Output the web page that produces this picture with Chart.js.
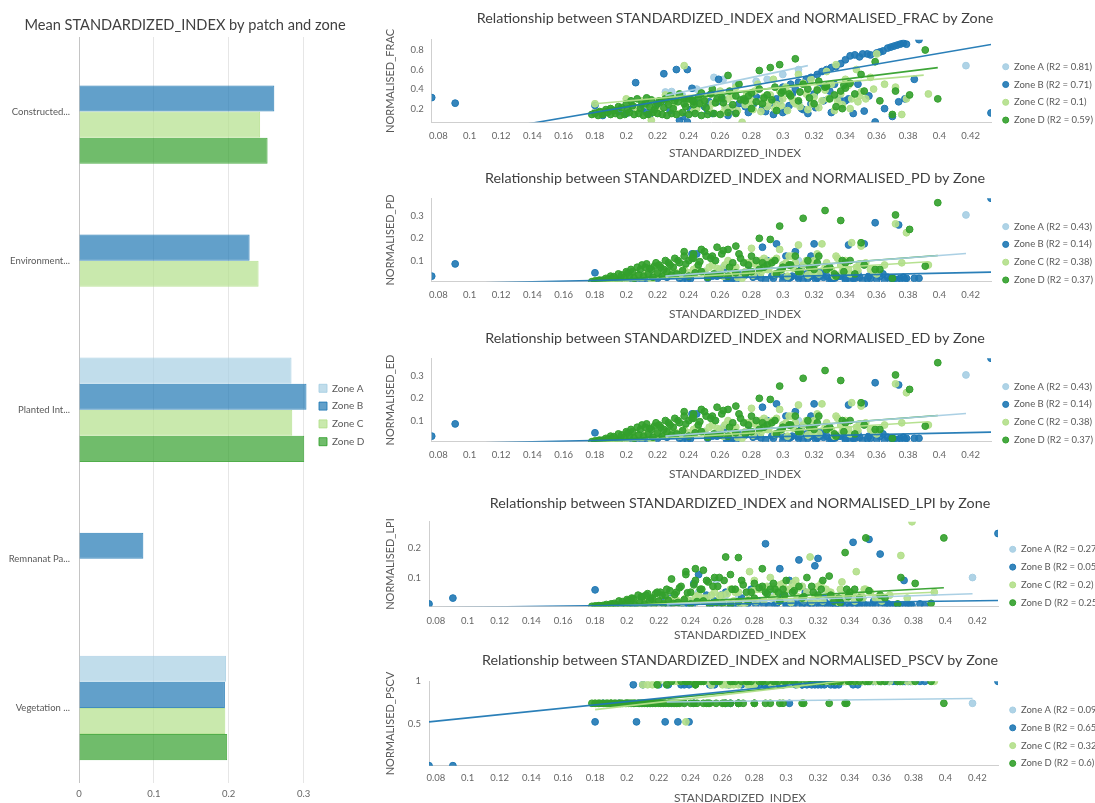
<!DOCTYPE html>
<html><head><meta charset="utf-8">
<script src="https://cdn.jsdelivr.net/npm/chart.js@4.4.1/dist/chart.umd.min.js"></script>
<style>
html,body{margin:0;padding:0;background:#fff;overflow:hidden;width:1095px;height:803px;position:relative;}
.box{position:absolute;}
canvas{display:block;}
</style></head><body>
<div class="box" style="left:0;top:0"><canvas id="bar" width="370" height="803"></canvas></div>
<div class="box" style="left:370px;top:0"><canvas id="s1" width="730" height="165"></canvas></div>
<div class="box" style="left:370px;top:165px"><canvas id="s2" width="730" height="160"></canvas></div>
<div class="box" style="left:370px;top:325px"><canvas id="s3" width="730" height="163"></canvas></div>
<div class="box" style="left:370px;top:488px"><canvas id="s4" width="740" height="157"></canvas></div>
<div class="box" style="left:370px;top:645px"><canvas id="s5" width="740" height="165"></canvas></div>
<script>
// ---------------- DATA ----------------
const zones = ['Zone A','Zone B','Zone C','Zone D'];
const patchCategories = ['Constructed...','Environment...','Planted Int...','Remnanat Pa...','Vegetation ...'];
const meanZoneA = [null, null, 0.284, null, 0.1965];
const meanZoneB = [0.261, 0.228, 0.304, 0.086, 0.195];
const meanZoneC = [0.242, 0.240, 0.285, null, 0.1955];
const meanZoneD = [0.252, null, 0.301, null, 0.198];
const barTicks = [0, 0.1, 0.2, 0.3];

const xTicks = [0.08,0.1,0.12,0.14,0.16,0.18,0.2,0.22,0.24,0.26,0.28,0.3,0.32,0.34,0.36,0.38,0.4,0.42];
const fracTicks = [0.2,0.4,0.6,0.8];
const pdTicks = [0.1,0.2,0.3];
const edTicks = [0.1,0.2,0.3];
const lpiTicks = [0.1,0.2];
const pscvTicks = [0.5,1];

const zoneA_index = [0.225,0.229,0.236,0.245,0.256,0.262,0.270,0.283,0.290,0.300,0.310,0.417];
const zoneA_frac  = [0.37,0.375,0.33,0.40,0.52,0.50,0.45,0.48,0.50,0.55,0.60,0.64];
const zoneA_pd    = [0.04,0.05,0.03,0.06,0.10,0.07,0.05,0.09,0.06,0.08,0.10,0.305];
const zoneA_lpi   = [0.02,0.03,0.01,0.05,0.09,0.04,0.03,0.06,0.04,0.05,0.07,0.10];
const zoneA_pscv  = [0.96,1,0.74,1,1,0.96,1,1,0.96,1,1,0.74];

const zoneB_index = [0.0757,0.0907,0.180,0.206,0.224,0.232,0.239,0.242,0.259,0.234,0.239,0.433,0.359,0.374,0.287,0.342,0.352,0.320,0.308,0.296,0.318,0.245,0.387,
  0.300,0.305,0.310,0.315,0.318,0.322,0.325,0.328,0.331,0.334,0.337,0.340,0.343,0.346,0.349,0.351,0.354,0.356,0.360,0.362,0.364,0.367,0.369,0.371,0.373,0.375,0.377,0.379,
  0.200,0.210,0.215,0.220,0.228,0.236,0.250,0.255,0.262,0.268,0.272,0.278,0.283,0.290,0.294,0.298,0.302,0.306,0.312,0.316,0.324,0.330,0.336,0.345,0.348,0.355,0.365,0.370,0.378,0.384,
  0.185,0.195,0.204,0.213,0.226,0.241,0.253,0.265,0.276,0.286,0.300,0.310,0.321,0.333,0.340,
  0.252,0.258,0.264,0.270,0.276,0.281,0.289,0.293,0.304,0.313,0.326,0.331];
const zoneB_frac = [0.313,0.256,0.233,0.466,0.557,0.600,0.600,0.408,0.500,0.080,0.063,0.156,0.063,0.270,0.200,0.300,0.175,0.350,0.400,0.300,0.250,0.250,0.906,
  0.42,0.45,0.47,0.50,0.52,0.55,0.58,0.60,0.62,0.63,0.66,0.70,0.74,0.75,0.73,0.76,0.76,0.75,0.77,0.78,0.79,0.82,0.83,0.84,0.85,0.86,0.87,0.86,
  0.15,0.20,0.14,0.25,0.18,0.12,0.22,0.15,0.30,0.20,0.25,0.16,0.32,0.22,0.14,0.28,0.18,0.35,0.20,0.15,0.42,0.38,0.30,0.15,0.45,0.33,0.20,0.12,0.30,0.50,
  0.13,0.17,0.21,0.16,0.28,0.19,0.27,0.13,0.22,0.30,0.16,0.26,0.21,0.45,0.28,
  0.18,0.27,0.21,0.16,0.29,0.24,0.17,0.26,0.23,0.19,0.28,0.16];
const zoneB_pd = [0.030,0.085,0.045,0.020,0.030,0.040,0.035,0.130,0.050,0.020,0.010,0.380,0.270,0.260,0.160,0.170,0.175,0.175,0.140,0.175,0.120,0.130,0.020,
  0.030,0.025,0.020,0.040,0.030,0.020,0.035,0.030,0.020,0.025,0.030,0.020,0.015,0.020,0.025,0.012,0.018,0.020,0.015,0.030,0.040,0.025,0.020,0.018,0.015,0.020,0.025,0.020,
  0.020,0.010,0.030,0.020,0.040,0.015,0.050,0.030,0.060,0.020,0.040,0.080,0.030,0.100,0.020,0.050,0.120,0.030,0.070,0.020,0.050,0.010,0.030,0.020,0.040,0.030,0.010,0.020,0.015,0.020,
  0.008,0.012,0.015,0.020,0.025,0.018,0.030,0.012,0.035,0.022,0.010,0.028,0.015,0.020,0.012,
  0.020,0.030,0.015,0.010,0.040,0.025,0.012,0.030,0.020,0.015,0.025,0.010];
const zoneB_lpi = [0.010,0.030,0.058,0.010,0.020,0.015,0.020,0.080,0.040,0.010,0.005,0.250,0.180,0.090,0.215,0.220,0.230,0.165,0.160,0.130,0.140,0.110,0.004,
  0.010,0.008,0.005,0.012,0.010,0.006,0.012,0.010,0.005,0.008,0.010,0.005,0.004,0.005,0.008,0.003,0.005,0.006,0.004,0.008,0.010,0.006,0.005,0.004,0.004,0.005,0.006,0.005,
  0.005,0.010,0.020,0.015,0.030,0.008,0.040,0.020,0.050,0.010,0.030,0.060,0.020,0.070,0.010,0.040,0.090,0.020,0.050,0.010,0.030,0.005,0.020,0.010,0.030,0.020,0.005,0.008,0.005,0.010,
  0.002,0.003,0.004,0.006,0.008,0.005,0.010,0.003,0.012,0.007,0.003,0.009,0.004,0.006,0.003,
  0.005,0.008,0.004,0.003,0.012,0.007,0.003,0.009,0.006,0.004,0.007,0.003];
const zoneB_pscv = [0,0,0.52,0.52,0.52,0.52,0.52,0.74,1,0.96,0.96,1,1,1,0.96,0.96,1,0.96,1,0.96,0.96,1,1,
  1,1,0.96,1,1,0.96,1,0.96,1,1,1,1,1,1,1,1,1,1,1,1,1,1,1,1,1,1,1,1,
  0.74,0.96,0.74,0.96,0.74,0.96,1,0.96,0.74,1,0.96,0.96,0.96,0.96,1,0.96,0.74,0.96,1,0.96,0.96,0.96,1,0.96,1,1,1,1,1,1,
  0.74,0.74,0.96,0.74,0.96,1,0.96,0.74,1,0.96,1,0.96,1,0.96,1,
  0.96,1,0.96,0.74,1,0.96,0.96,1,1,0.96,1,0.96];

const zoneC_index = [0.180,0.190,0.200,0.205,0.210,0.216,0.220,0.225,0.230,0.234,0.237,0.240,0.245,0.250,0.255,0.260,0.265,0.270,0.274,0.277,
  0.280,0.284,0.288,0.290,0.294,0.298,0.302,0.306,0.310,0.313,0.315,0.318,0.322,0.325,0.328,0.331,0.334,0.337,0.340,0.344,
  0.347,0.350,0.353,0.356,0.360,0.365,0.372,0.376,0.379,0.393,
  0.207,0.213,0.219,0.227,0.232,0.243,0.248,0.253,0.258,0.263,0.268,0.279,0.282,0.286,0.292,0.296,0.300,0.304,0.308,0.320,0.327,0.335,0.342,0.349,0.358,
  0.262,0.267,0.271,0.276,0.281,0.286,0.291,0.295,0.299,0.303,0.307,0.311,0.316,0.319,0.323,0.329,0.333,0.338,0.343,0.348];
const zoneC_frac = [0.25,0.20,0.30,0.22,0.28,0.08,0.18,0.34,0.22,0.15,0.64,0.28,0.20,0.32,0.25,0.38,0.30,0.42,0.06,0.35,
  0.28,0.45,0.32,0.22,0.50,0.38,0.42,0.30,0.55,0.46,0.35,0.50,0.40,0.28,0.58,0.45,0.65,0.35,0.50,0.30,
  0.60,0.37,0.30,0.52,0.76,0.45,0.42,0.14,0.30,0.35,
  0.18,0.24,0.16,0.27,0.31,0.17,0.26,0.19,0.29,0.22,0.33,0.24,0.38,0.27,0.34,0.24,0.30,0.36,0.25,0.32,0.39,0.28,0.44,0.33,0.40,
  0.16,0.21,0.18,0.24,0.19,0.17,0.26,0.20,0.23,0.18,0.27,0.22,0.19,0.25,0.21,0.30,0.18,0.24,0.20,0.27];
const zoneC_pd = [0.010,0.015,0.020,0.030,0.025,0.010,0.040,0.035,0.050,0.030,0.060,0.045,0.070,0.050,0.080,0.060,0.100,0.070,0.020,0.090,
  0.155,0.080,0.110,0.060,0.100,0.150,0.090,0.120,0.170,0.080,0.100,0.070,0.130,0.175,0.090,0.060,0.120,0.080,0.100,0.180,
  0.070,0.165,0.090,0.060,0.040,0.080,0.265,0.090,0.225,0.080,
  0.030,0.040,0.035,0.050,0.045,0.060,0.050,0.070,0.065,0.080,0.070,0.090,0.085,0.100,0.095,0.110,0.080,0.120,0.090,0.100,0.070,0.110,0.060,0.085,0.050,
  0.030,0.040,0.025,0.050,0.035,0.045,0.060,0.040,0.055,0.030,0.065,0.045,0.035,0.050,0.040,0.060,0.030,0.050,0.040,0.055];
const zoneC_lpi = [0.002,0.005,0.010,0.015,0.010,0.003,0.020,0.015,0.030,0.010,0.030,0.020,0.040,0.030,0.050,0.040,0.060,0.050,0.010,0.120,
  0.090,0.060,0.070,0.100,0.050,0.080,0.060,0.090,0.070,0.050,0.170,0.040,0.080,0.060,0.050,0.030,0.060,0.040,0.050,0.120,
  0.040,0.060,0.050,0.030,0.020,0.040,0.175,0.030,0.290,0.050,
  0.012,0.018,0.015,0.025,0.020,0.035,0.030,0.040,0.038,0.045,0.050,0.055,0.060,0.065,0.070,0.075,0.060,0.080,0.065,0.070,0.050,0.085,0.045,0.060,0.035,
  0.015,0.020,0.010,0.025,0.018,0.022,0.030,0.020,0.028,0.015,0.035,0.022,0.018,0.025,0.020,0.030,0.015,0.025,0.020,0.028];
const zoneC_pscv = [0.74,0.74,0.74,0.74,0.96,0.96,1,1,1,1,0.52,1,1,1,1,0.96,0.96,0.96,1,0.96,
  0.96,1,1,1,1,1,1,1,1,1,1,1,1,1,1,1,1,1,1,1,
  1,1,1,1,1,1,1,1,1,1,
  0.74,0.96,0.96,1,1,1,1,0.96,1,0.96,1,0.96,1,1,1,1,1,1,1,1,1,1,1,1,1,
  1,0.96,1,0.96,1,1,0.96,1,1,1,0.96,1,1,1,1,1,1,1,1,1];

const zoneD_index = [0.178,0.180,0.182,0.185,0.188,0.190,0.193,0.196,0.199,0.202,0.205,0.208,0.211,0.214,0.217,0.220,0.223,0.226,0.229,0.232,0.236,0.240,0.244,0.248,0.252,0.256,0.260,0.265,0.270,
  0.190,0.195,0.200,0.203,0.207,0.210,0.213,0.216,0.219,0.222,0.225,0.228,0.231,0.234,0.237,0.240,0.243,0.246,0.250,0.254,0.258,0.262,0.266,0.270,0.275,0.280,0.285,0.290,0.295,0.300,
  0.265,0.285,0.292,0.298,0.308,0.313,0.327,0.337,0.343,0.350,0.359,0.372,0.370,0.381,0.391,0.399,0.304,0.310,0.316,0.320,0.323,0.330,0.334,0.338,0.340,0.346,0.352,0.362,0.280,0.287,0.296,0.272,0.276,0.255,0.248,0.237,0.243,
  0.183,0.187,0.192,0.197,0.201,0.204,0.209,0.212,0.215,0.218,0.221,0.224,0.227,0.230,0.233,0.238,0.242,0.247,0.251,0.257,0.261,0.268,0.273,0.278,0.283,0.288,0.293,0.299,0.305,0.311,0.317,0.322,0.328,0.333,0.339];
const zoneD_frac = [0.14,0.15,0.13,0.14,0.16,0.14,0.15,0.13,0.14,0.16,0.14,0.15,0.13,0.14,0.16,0.15,0.14,0.13,0.15,0.14,0.16,0.14,0.15,0.13,0.14,0.15,0.14,0.16,0.15,
  0.20,0.22,0.25,0.28,0.30,0.26,0.31,0.29,0.23,0.27,0.30,0.33,0.28,0.35,0.25,0.30,0.24,0.32,0.28,0.35,0.30,0.26,0.38,0.33,0.30,0.36,0.40,0.34,0.42,0.38,
  0.54,0.59,0.62,0.65,0.71,0.45,0.42,0.38,0.46,0.55,0.68,0.38,0.14,0.34,0.80,0.30,0.35,0.28,0.40,0.25,0.48,0.30,0.22,0.20,0.41,0.35,0.38,0.28,0.20,0.25,0.18,0.45,0.28,0.40,0.36,0.30,0.27,
  0.17,0.19,0.18,0.21,0.19,0.23,0.20,0.25,0.22,0.19,0.28,0.21,0.24,0.20,0.27,0.22,0.29,0.25,0.21,0.26,0.31,0.24,0.29,0.33,0.27,0.31,0.29,0.36,0.33,0.37,0.31,0.39,0.43,0.34,0.44];
const zoneD_pd = [0.005,0.008,0.010,0.012,0.015,0.018,0.020,0.015,0.025,0.030,0.020,0.035,0.030,0.040,0.025,0.045,0.030,0.050,0.035,0.040,0.055,0.030,0.045,0.050,0.025,0.040,0.035,0.030,0.045,
  0.030,0.040,0.050,0.060,0.070,0.080,0.085,0.060,0.090,0.070,0.100,0.080,0.110,0.090,0.120,0.100,0.130,0.080,0.140,0.110,0.160,0.145,0.070,0.165,0.090,0.120,0.060,0.080,0.100,0.070,
  0.150,0.200,0.195,0.255,0.120,0.290,0.325,0.280,0.100,0.180,0.060,0.305,0.020,0.240,0.075,0.360,0.080,0.050,0.100,0.060,0.120,0.070,0.030,0.100,0.090,0.040,0.080,0.060,0.050,0.090,0.040,0.130,0.040,0.120,0.150,0.140,0.110,
  0.012,0.020,0.028,0.035,0.045,0.050,0.060,0.070,0.065,0.075,0.080,0.060,0.090,0.070,0.100,0.085,0.110,0.095,0.120,0.100,0.130,0.090,0.110,0.080,0.100,0.070,0.090,0.060,0.080,0.050,0.070,0.090,0.060,0.040,0.050];
const zoneD_lpi = [0.002,0.003,0.004,0.005,0.005,0.006,0.008,0.004,0.010,0.012,0.006,0.015,0.010,0.018,0.008,0.020,0.010,0.022,0.012,0.015,0.025,0.010,0.018,0.020,0.008,0.015,0.012,0.010,0.018,
  0.010,0.020,0.025,0.030,0.040,0.035,0.045,0.030,0.050,0.040,0.060,0.095,0.050,0.070,0.120,0.050,0.130,0.060,0.090,0.070,0.100,0.170,0.060,0.168,0.050,0.080,0.070,0.060,0.050,0.090,
  0.110,0.130,0.080,0.060,0.070,0.100,0.105,0.185,0.060,0.235,0.040,0.100,0.010,0.080,0.012,0.235,0.050,0.030,0.070,0.040,0.090,0.020,0.015,0.060,0.050,0.030,0.055,0.030,0.030,0.050,0.020,0.090,0.020,0.100,0.125,0.110,0.090,
  0.004,0.008,0.012,0.018,0.022,0.028,0.035,0.040,0.030,0.045,0.050,0.038,0.055,0.042,0.065,0.048,0.075,0.060,0.085,0.070,0.090,0.060,0.075,0.050,0.065,0.045,0.060,0.040,0.055,0.035,0.050,0.060,0.040,0.030,0.035];
const zoneD_pscv = [0.74,0.74,0.74,0.74,0.74,0.74,0.74,0.74,0.74,0.74,0.74,0.74,0.74,0.74,0.74,0.74,0.74,0.74,0.74,0.74,0.74,0.74,0.74,0.74,0.74,0.74,0.74,0.74,0.74,
  0.74,0.74,0.74,0.74,0.74,0.74,0.74,0.74,0.96,0.74,0.96,1,0.74,1,1,1,0.96,1,0.74,1,1,0.74,1,0.74,1,0.74,1,0.74,1,1,
  1,1,1,0.74,1,1,0.74,0.74,1,1,1,1,1,1,1,0.74,1,0.74,1,1,1,1,1,0.74,1,1,1,1,0.74,0.74,0.74,1,1,1,1,1,0.96,
  0.74,0.74,0.74,0.74,0.74,0.74,0.74,0.74,0.74,0.74,0.74,0.74,0.74,0.74,0.74,1,0.74,1,0.74,1,0.74,1,0.74,1,1,1,1,1,1,0.74,1,1,1,1,1];

const zoneA_ed = zoneA_pd, zoneB_ed = zoneB_pd, zoneC_ed = zoneC_pd, zoneD_ed = zoneD_pd;

const fracR2 = [0.81, 0.71, 0.1, 0.59];
const pdR2   = [0.43, 0.14, 0.38, 0.37];
const edR2   = [0.43, 0.14, 0.38, 0.37];
const lpiR2  = [0.27, 0.05, 0.2, 0.25];
const pscvR2 = [0.09, 0.65, 0.32, 0.6];

// fitted lines [x1, y1, x2, y2] per zone
const fracTrends = [[0.225,0.333,0.316,0.64],[0.0757,-0.125,0.433,0.856],[0.18,0.25,0.39,0.543],[0.178,0.18,0.399,0.62]];
const pdTrends   = [[0.225,0.03,0.417,0.132],[0.0757,-0.005,0.433,0.048],[0.18,0.0,0.393,0.095],[0.178,0.005,0.399,0.123]];
const edTrends   = [[0.225,0.03,0.417,0.132],[0.0757,-0.005,0.433,0.048],[0.18,0.0,0.393,0.095],[0.178,0.005,0.399,0.123]];
const lpiTrends  = [[0.225,0.01,0.417,0.045],[0.0757,-0.003,0.433,0.022],[0.18,0.0,0.393,0.05],[0.178,0.0,0.399,0.065]];
const pscvTrends = [[0.225,0.755,0.417,0.796],[0.0757,0.52,0.433,1.21],[0.18,0.665,0.393,1.13],[0.178,0.71,0.399,1.11]];

// ---------------- STYLE / RENDER ----------------
Chart.defaults.font.family = "Lato, 'Open Sans', sans-serif";
Chart.defaults.color = '#595959';
Chart.defaults.animation = false;
Chart.defaults.events = [];

const rgb = [[166,206,227],[31,120,180],[178,223,138],[51,160,44]];
const rgba = (k,a) => `rgba(${rgb[k][0]},${rgb[k][1]},${rgb[k][2]},${a})`;
const fmt = v => String(Number(Number(v).toFixed(4)));
const setTicks = arr => (s => { s.ticks = arr.map(v => ({value: v})); });

const legendPlacer = {
  id: 'legendPlacer',
  afterLayout(chart, args, o) {
    const L = chart.legend;
    if (!L || o.x == null) return;
    const pad = L.options.labels.padding;
    const w = L.width;
    L.left = o.x - pad; L.right = L.left + w;
    L.top = o.cy - 100; L.bottom = o.cy + 100;
  }
};

new Chart(document.getElementById('bar'), {
  type: 'bar',
  data: {
    labels: patchCategories,
    datasets: [meanZoneA, meanZoneB, meanZoneC, meanZoneD].map((d,k) => ({
      label: zones[k], data: d, backgroundColor: rgba(k,0.7), borderColor: rgba(k,0.85),
      borderWidth: 1, barPercentage: 1, categoryPercentage: 0.7
    }))
  },
  options: {
    indexAxis: 'y', responsive: false,
    layout: {padding: {left: 0, right: 0, top: 0, bottom: 3.3}},
    scales: {
      x: {min: 0, max: 0.31, afterBuildTicks: setTicks(barTicks),
          grid: {color: '#e6e6e6', drawTicks: false}, border: {display: false},
          ticks: {padding: 5.8, font: {size: 9.5}, color: '#666', callback: fmt},
          afterFit: s => { s.height = 5.8 + 11.4; }},
      y: {grid: {display: false, drawTicks: false}, border: {display: true, color: '#c4c4c4'},
          ticks: {padding: 9, font: {size: 9.5}, color: '#595959'}, afterFit: s => { s.width = 79; }},
      yR: {type: 'linear', axis: 'y', position: 'right', min: 0, max: 1, display: true,
           grid: {display: false}, border: {display: false}, ticks: {display: false},
           afterFit: s => { s.width = 59; }}
    },
    plugins: {
      title: {display: true, text: 'Mean STANDARDIZED_INDEX by patch and zone',
              font: {size: 14.6, weight: 'normal'}, color: '#404040', padding: {top: 17, bottom: 2.5}},
      legend: {position: 'chartArea', labels: {boxWidth: 8, boxHeight: 8, padding: 7.8, font: {size: 10}, color: '#595959'}},
      legendPlacer: {x: 319, cy: 415},
      tooltip: {enabled: false}
    }
  },
  plugins: [legendPlacer]
});

const zoneIndex = [zoneA_index, zoneB_index, zoneC_index, zoneD_index];
const allIndex = zoneIndex.flat();
const xMin = Math.min(...allIndex), xMax = Math.max(...allIndex);

function makeScatter(id, title, yTitle, yVals, trends, r2, yTicks, L) {
  const allY = yVals.flat();
  const ds = [];
  for (let k = 0; k < 4; k++) {
    ds.push({
      type: 'scatter', label: `${zones[k]} (R2 = ${r2[k]})`,
      data: zoneIndex[k].map((x,i) => ({x, y: yVals[k][i]})),
      backgroundColor: rgba(k, 0.9), borderColor: rgba(k, 1), borderWidth: 1,
      pointRadius: 3.4, pointStyle: 'circle', order: 4 - k
    });
  }
  for (let k = 0; k < 4; k++) {
    const t = trends[k];
    ds.push({
      type: 'scatter', label: 'fit', data: [{x: t[0], y: t[1]}, {x: t[2], y: t[3]}],
      showLine: true, borderColor: rgba(k, 0.95), borderWidth: 1.6, pointRadius: 0,
      order: 0, clip: 0
    });
  }
  new Chart(document.getElementById(id), {
    type: 'scatter',
    data: {datasets: ds},
    options: {
      responsive: false,
      layout: {padding: 0},
      scales: {
        x: {type: 'linear', min: xMin, max: xMax, afterBuildTicks: setTicks(xTicks),
            grid: {display: false, drawTicks: false}, border: {color: '#cfcfcf'},
            ticks: {padding: L.tickPad, font: {size: 9.5}, color: '#666', callback: fmt, autoSkip: false, maxRotation: 0},
            afterFit: s => { s.height = L.tickPad + 11.4; }},
        y: {type: 'linear', min: Math.min(...allY), max: Math.max(...allY), afterBuildTicks: setTicks(yTicks),
            grid: {display: false, drawTicks: false}, border: {color: '#cfcfcf'},
            ticks: {padding: 8, font: {size: 9.5}, color: '#666', callback: fmt},
            title: {display: true, text: yTitle, font: {size: 11}, color: '#595959', padding: {top: 14, bottom: 0}},
            afterFit: s => { s.width = L.yW; }},
        yR: {type: 'linear', position: 'right', min: 0, max: 1, display: true,
             grid: {display: false}, border: {display: false}, ticks: {display: false},
             afterFit: s => { s.width = L.rW; }}
      },
      plugins: {
        title: {display: true, text: title, font: {size: 14.3, weight: 'normal'}, color: '#404040',
                padding: {top: L.tPad[0], bottom: L.tPad[1]}},
        subtitle: {display: true, position: 'bottom', text: 'STANDARDIZED_INDEX', font: {size: 12}, color: '#595959',
                   padding: {top: L.sPad[0], bottom: L.sPad[1]}},
        legend: {position: 'chartArea',
                 labels: {usePointStyle: true, boxWidth: 7, boxHeight: 4.3, padding: 8.3, font: {size: 9.5}, color: '#595959',
                          filter: item => item.datasetIndex < 4,
                          sort: (a, b) => a.datasetIndex - b.datasetIndex}},
        legendPlacer: {x: L.lx, cy: L.cy},
        tooltip: {enabled: false}
      }
    },
    plugins: [legendPlacer]
  });
}

makeScatter('s1', 'Relationship between STANDARDIZED_INDEX and NORMALISED_FRAC by Zone', 'NORMALISED_FRAC',
  [zoneA_frac, zoneB_frac, zoneC_frac, zoneD_frac], fracTrends, fracR2, fracTicks,
  {yW: 61.7, rW: 109, tPad: [9.6, 12.9], tickPad: 8.4, sPad: [4, 4.5], lx: 632.2, cy: 93.4});
makeScatter('s2', 'Relationship between STANDARDIZED_INDEX and NORMALISED_PD by Zone', 'NORMALISED_PD',
  [zoneA_pd, zoneB_pd, zoneC_pd, zoneD_pd], pdTrends, pdR2, pdTicks,
  {yW: 61.7, rW: 109, tPad: [4.6, 11.5], tickPad: 7.6, sPad: [6.1, 3.8], lx: 632.2, cy: 88.3});
makeScatter('s3', 'Relationship between STANDARDIZED_INDEX and NORMALISED_ED by Zone', 'NORMALISED_ED',
  [zoneA_ed, zoneB_ed, zoneC_ed, zoneD_ed], edTrends, edR2, edTicks,
  {yW: 61.7, rW: 109, tPad: [4.6, 11.5], tickPad: 7.6, sPad: [6.1, 6.8], lx: 632.2, cy: 88.3});
makeScatter('s4', 'Relationship between STANDARDIZED_INDEX and NORMALISED_LPI by Zone', 'NORMALISED_LPI',
  [zoneA_lpi, zoneB_lpi, zoneC_lpi, zoneD_lpi], lpiTrends, lpiR2, lpiTicks,
  {yW: 59, rW: 112, tPad: [6.6, 10], tickPad: 9.3, sPad: [0.5, 3.1], lx: 639.2, cy: 88});
makeScatter('s5', 'Relationship between STANDARDIZED_INDEX and NORMALISED_PSCV by Zone', 'NORMALISED_PSCV',
  [zoneA_pscv, zoneB_pscv, zoneC_pscv, zoneD_pscv], pscvTrends, pscvR2, pscvTicks,
  {yW: 59, rW: 112, tPad: [7.3, 11.9], tickPad: 6.6, sPad: [7, 4.9], lx: 639.2, cy: 91.7});
</script>
</body></html>
